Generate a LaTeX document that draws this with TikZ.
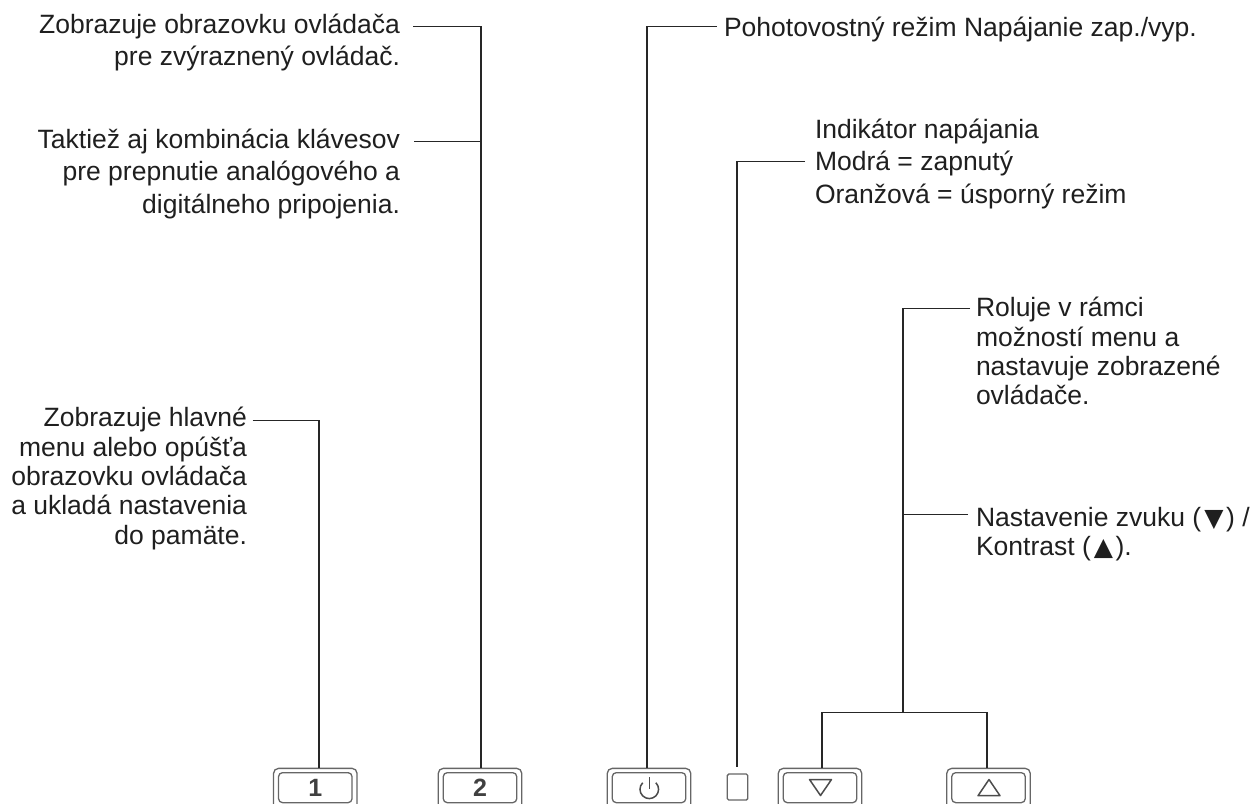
\documentclass[tikz,border=0pt]{standalone}
\usepackage{fontspec}
\setmainfont{Liberation Sans}
\newfontfamily\symfont{DejaVu Sans}
\newcommand{\tri}[1]{\hspace{3pt}{\symfont\fontsize{25}{25}\selectfont #1}\hspace{2.5pt}}
\tikzset{
  lab/.style={inner sep=0pt,outer sep=0pt,text=black!88},
  wide/.style={font=\fontsize{26.5}{32.4}\selectfont},
  tight/.style={font=\fontsize{26.5}{29.3}\selectfont},
  labr/.style={lab,align=right,anchor=north east},
  labl/.style={lab,align=left,anchor=north west},
  conn/.style={draw=black!85,line width=1.1pt},
  keyouter/.style={draw=black!60,line width=1.3pt,rounded corners=5pt,minimum width=83.5pt,minimum height=50pt,anchor=north,inner sep=0pt},
  keyinner/.style={draw=black!60,line width=1.3pt,rounded corners=4pt,minimum width=73.5pt,minimum height=30pt,anchor=north,inner sep=0pt,font=\fontsize{25}{25}\selectfont\bfseries,text=black!75},
  glyph/.style={draw=black!70,line width=1.5pt,line join=round},
}
\begin{document}
\begin{tikzpicture}[x=1pt,y=-1pt]
\useasboundingbox (0,0) rectangle (1255,803);
\clip (0,0) rectangle (1255,803);
% keys
\node[keyouter] (k1) at (315.3,767.7) {};
\node[keyinner] (k1i) at (315.3,772) {\raisebox{-2pt}{1}};
\node[keyouter] (k2) at (480,767.7) {};
\node[keyinner] (k2i) at (480,772) {\raisebox{-2pt}{2}};
\node[keyouter] (kp) at (649,767.7) {};
\node[keyinner] (kpi) at (649,772) {};
\node[draw=black!60,line width=1.4pt,rounded corners=1.5pt,minimum width=20.5pt,minimum height=26pt,anchor=north,inner sep=0pt] (led) at (737.5,773.3) {};
\node[keyouter] (kd) at (820,767.7) {};
\node[keyinner] (kdi) at (820,772) {};
\node[keyouter] (ku) at (988.5,767.7) {};
\node[keyinner] (kui) at (988.5,772) {};
% glyphs
\draw[glyph] (649.3,777.3) -- (649.3,789);
\draw[glyph] (642.7,782.7) arc[start angle=225,end angle=-45,radius=9.3];
\draw[glyph] (809.5,779.5) -- (831.5,779.5) -- (820.5,795.5) -- cycle;
\draw[glyph] (978,795.7) -- (1000,795.7) -- (989,779.5) -- cycle;
% labels
\node[labr,wide] (t1) at (400,13.7) {Zobrazuje obrazovku ovládača\\pre zvýraznený ovládač.};
\node[labr,wide] (t2) at (400,128.7) {Taktiež aj kombinácia klávesov\\pre prepnutie analógového a\\digitálneho pripojenia.};
\node[labr,tight] (t3) at (247,407.4) {Zobrazuje hlavné\\menu alebo opúšťa\\obrazovku ovládača\\a ukladá nastavenia\\do pamäte.};
\node[labl,wide] (t4) at (724,16.7) {Pohotovostný režim Napájanie zap./vyp.};
\node[labl,wide] (t5) at (815,118.7) {Indikátor napájania\\Modrá = zapnutý\\Oranžová = úsporný režim};
\node[labl,tight] (t6) at (976,297.4) {Roluje v rámci\\možností menu a\\nastavuje zobrazené\\ovládače.};
\node[labl,tight] (t7) at (976,507.4) {Nastavenie zvuku (\tri{▼}) /\\Kontrast (\tri{▲}).};
% junctions
\coordinate (a1) at (481,26.5);
\coordinate (a2) at (481,141.5);
\coordinate (a3) at (319,420.5);
\coordinate (a4) at (647,26.5);
\coordinate (a5) at (737,161.5);
\coordinate (s1) at (903,308.5);
\coordinate (s2) at (903,514.5);
\coordinate (s3) at (903,712.5);
\coordinate (b1) at (822,712.5);
\coordinate (b2) at (987,712.5);
\coordinate (e1) at (413,26.5);
\coordinate (e2) at (414,141.5);
\coordinate (e3) at (252.7,420.5);
\coordinate (e4) at (717,26.5);
\coordinate (e5) at (805,161.5);
\coordinate (e6) at (970,308.5);
\coordinate (e7) at (968,514.5);
\coordinate (ledtop) at (737,766.5);
% connectors
\draw[conn] (e1) -- (a1) -- (a1 |- k2.north);
\draw[conn] (e2) -- (a2);
\draw[conn] (e3) -- (a3) -- (a3 |- k1.north);
\draw[conn] (e4) -- (a4) -- (a4 |- kp.north);
\draw[conn] (e5) -- (a5) -- (ledtop);
\draw[conn] (e6) -- (s1) -- (s3);
\draw[conn] (e7) -- (s2);
\draw[conn] (b1 |- kd.north) -- (b1) -- (b2) -- (b2 |- ku.north);
\end{tikzpicture}
\end{document}
